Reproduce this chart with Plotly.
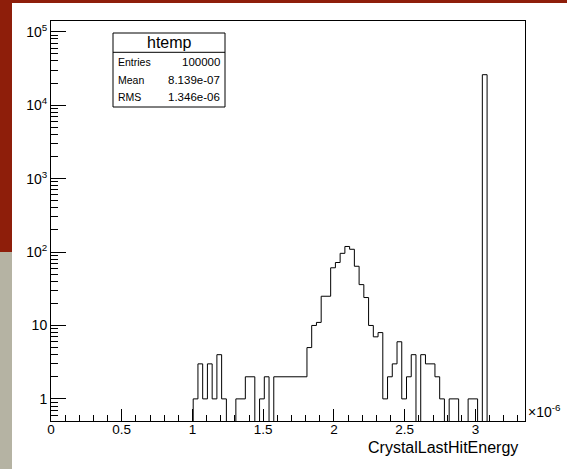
import math
import plotly.graph_objects as go

# ---------------- data ----------------
x_min = 0.0          # x axis in units of 1e-6
x_max = 3.35
n_bins = 100
counts = [0, 0, 0, 0, 0, 0, 0, 0, 0, 0,
          0, 0, 0, 0, 0, 0, 0, 0, 0, 0,
          0, 0, 0, 0, 0, 0, 0, 0, 0, 0,
          1, 3, 1, 3, 1, 4, 1, 0, 0, 1,
          1, 2, 2, 0, 1, 2, 0, 2, 2, 2,
          2, 2, 2, 2, 5, 10, 11, 25, 25, 61,
          72, 96, 119, 109, 64, 36, 24, 10, 7, 8,
          1, 2, 3, 6, 1, 2, 4, 0, 4, 3,
          3, 2, 1, 0, 1, 1, 0, 0, 1, 1,
          0, 26000, 0, 0, 0, 0, 0, 0, 0, 0]
x_tick_vals = [0, 0.5, 1, 1.5, 2, 2.5, 3]
x_tick_text = ["0", "0.5", "1", "1.5", "2", "2.5", "3"]
y_tick_vals = [1, 10, 100, 1000, 10000, 100000]
y_tick_text = ["1", "10", "10<sup>2</sup>", "10<sup>3</sup>", "10<sup>4</sup>", "10<sup>5</sup>"]
stats_title = "htemp"
stats_names = ["Entries", "Mean", "RMS"]
stats_values = ["100000", "8.139e-07", "1.346e-06"]
x_title = "CrystalLastHitEnergy"
x_exponent = "×10<sup>-6</sup>"

# ---------------- geometry (pixels) ----------------
W, H = 567, 469
L, R, T, B = 51, 525, 21, 421
y_lo, y_hi = 0.5, 1.4e5


def px(xp):
    return (xp - L) / (R - L)


def py(yp):
    return (B - yp) / (B - T)


width = (x_max - x_min) / n_bins
edges = [x_min + i * width for i in range(n_bins + 1)]
floor = 0.05  # empty bins drawn below the axis minimum (clipped), like ROOT
ys = [c if c > 0 else floor for c in counts]
xs_plot, ys_plot = [], []
for i in range(n_bins):
    xs_plot += [edges[i], edges[i + 1]]
    ys_plot += [ys[i], ys[i]]

fig = go.Figure()
fig.add_trace(go.Scatter(x=xs_plot, y=ys_plot, mode="lines",
                         line=dict(color="black", width=1),
                         hoverinfo="skip", showlegend=False))

minor_vals = [k * 10 ** e for e in range(-1, 6) for k in range(2, 10)]
font_family = "Liberation Sans, Arial, Helvetica, sans-serif"

fig.update_layout(
    width=W, height=H,
    margin=dict(l=L, r=W - R, t=T, b=H - B, pad=0),
    paper_bgcolor="white", plot_bgcolor="white",
    font=dict(family=font_family, color="black"),
    showlegend=False,
    xaxis=dict(range=[x_min, x_max], showgrid=False, zeroline=False,
               showline=True, linecolor="black", linewidth=1, mirror=True,
               ticks="inside", ticklen=12, tickcolor="black", tickwidth=1,
               tickmode="array", tickvals=x_tick_vals, ticktext=x_tick_text,
               tickfont=dict(size=13.5), ticklabelstandoff=-4,
               minor=dict(ticks="inside", ticklen=6, tickcolor="black",
                          dtick=0.1, tick0=0, showgrid=False)),
    yaxis=dict(type="log", range=[math.log10(y_lo), math.log10(y_hi)],
               showgrid=False, zeroline=False,
               showline=True, linecolor="black", linewidth=1, mirror=True,
               ticks="inside", ticklen=15, tickcolor="black", tickwidth=1,
               tickmode="array", tickvals=y_tick_vals, ticktext=y_tick_text,
               tickfont=dict(size=14),
               minor=dict(ticks="inside", ticklen=7, tickcolor="black",
                          tickmode="array", tickvals=minor_vals, showgrid=False)),
)

shapes = []
# background decorations of the slide
red = "rgb(142,30,10)"
stone = "rgb(181,179,163)"
shapes.append(dict(type="rect", xref="paper", yref="paper",
                   x0=px(0), x1=px(W), y0=py(3), y1=py(0),
                   fillcolor=red, line=dict(width=0), layer="below"))
shapes.append(dict(type="rect", xref="paper", yref="paper",
                   x0=px(0), x1=px(12), y0=py(252), y1=py(0),
                   fillcolor=red, line=dict(width=0), layer="below"))
shapes.append(dict(type="rect", xref="paper", yref="paper",
                   x0=px(0), x1=px(12), y0=py(H), y1=py(252),
                   fillcolor=stone, line=dict(width=0), layer="below"))
# stats box
bx0, bx1, by0, by1, bsep = 113, 225, 33, 107, 52.3
shapes.append(dict(type="rect", xref="paper", yref="paper",
                   x0=px(bx0), x1=px(bx1), y0=py(by1), y1=py(by0),
                   fillcolor="white", line=dict(color="black", width=1)))
shapes.append(dict(type="line", xref="paper", yref="paper",
                   x0=px(bx0), x1=px(bx1), y0=py(bsep), y1=py(bsep),
                   line=dict(color="black", width=1)))
fig.update_layout(shapes=shapes)

ann = []
ann.append(dict(text=stats_title, xref="paper", yref="paper",
                x=px((bx0 + bx1) / 2), y=py(42.5), xanchor="center", yanchor="middle",
                showarrow=False, font=dict(size=16)))
row_y = [62.3, 80.0, 97.3]
for name, val, yy in zip(stats_names, stats_values, row_y):
    ann.append(dict(text=name, xref="paper", yref="paper",
                    x=px(bx0 + 3), y=py(yy), xanchor="left", yanchor="middle",
                    showarrow=False, font=dict(size=10.5)))
    ann.append(dict(text=val, xref="paper", yref="paper",
                    x=px(bx1 - 3), y=py(yy), xanchor="right", yanchor="middle",
                    showarrow=False, font=dict(size=11.5)))
ann.append(dict(text=x_title, xref="paper", yref="paper",
                x=px(520), y=py(447), xanchor="right", yanchor="middle",
                showarrow=False, font=dict(size=16)))
ann.append(dict(text=x_exponent, xref="paper", yref="paper",
                x=px(526), y=py(411), xanchor="left", yanchor="middle",
                showarrow=False, font=dict(size=14)))
fig.update_layout(annotations=ann)

fig.write_html("out.html")
